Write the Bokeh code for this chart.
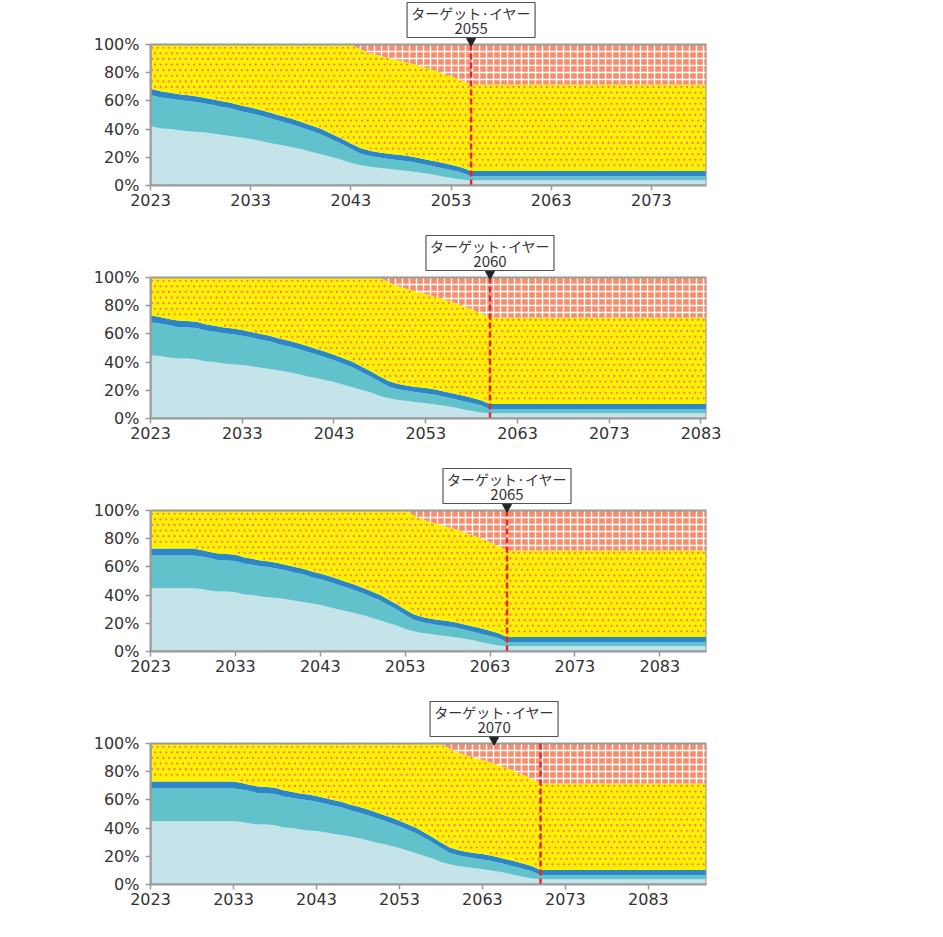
import math
import sys
import traceback
import numpy as np
from bokeh.plotting import figure
from bokeh.models import (Range1d, FixedTicker, PrintfTickFormatter, Label,
                          Legend, LegendItem, ColumnDataSource)
from bokeh.layouts import column
from bokeh.embed import file_html
from bokeh.resources import INLINE

# ---------------- data ----------------
SERIES = ["国内株式", "外国株式", "外国債券", "国内債券", "国内短期金融資産"]
KEYS = ["ds", "fs", "fb", "db", "st"]
TARGETS = [2055, 2060, 2065, 2070]
START_YEAR = 2023
END_YEARS = [2078.5, 2083.6, 2088.5, 2090.0]
CALLOUT_X = [2055, 2060, 2065, 2064.4]
X_TICKS = [2023, 2033, 2043, 2053, 2063, 2073, 2083]
Y_TICKS = [0, 20, 40, 60, 80, 100]

# glide path (% of assets) by years remaining to the target year (t = 0 also applies after it)
YEARS_TO_TARGET = list(range(47, -1, -1))
DOM_STOCK = [44.8] * 11 + [44.3, 43.3, 42.6, 42.5, 42.0, 40.4, 40.0, 39.0, 38.3, 37.9, 37.0,
                           36.0, 35.1, 34.0, 32.9, 31.6, 30.0, 28.7, 27.3, 25.8, 24.0, 22.2,
                           20.3, 18.4, 16.0, 14.3, 13.2, 12.4, 11.6, 10.9, 10.0, 9.0, 7.9,
                           6.6, 5.4, 4.3, 3.7]
FOR_STOCK = [23.2] * 11 + [23.1, 23.0, 22.2, 22.1, 22.2, 22.1, 21.5, 21.5, 21.4, 20.7, 20.4,
                           19.9, 19.6, 18.6, 18.4, 17.8, 17.5, 16.8, 16.2, 15.5, 14.9, 14.1,
                           12.7, 11.4, 10.0, 8.3, 7.6, 7.2, 7.1, 6.9, 6.8, 6.4, 6.1,
                           5.8, 5.6, 5.1, 2.8]
FOR_BOND = [5.0] * 11 + [4.6, 4.3, 4.7, 4.6, 4.4, 4.3, 4.2, 4.1, 4.1, 4.1, 4.0,
                         4.1, 3.9, 4.2, 4.1, 4.1, 4.1, 4.0, 4.0, 4.0, 3.9, 4.0,
                         3.8, 3.7, 3.8, 3.8, 3.6, 3.6, 3.7, 3.8, 3.8, 3.7, 3.8,
                         3.9, 3.8, 3.6, 3.8]
DOM_BOND = [27.0] * 11 + [28.0, 29.4, 30.5, 30.8, 31.4, 33.2, 34.3, 35.4, 36.2, 37.3, 38.6,
                          40.0, 41.4, 43.2, 44.6, 46.5, 48.4, 50.5, 52.5, 54.7, 57.2, 59.7,
                          63.2, 66.5, 70.2, 70.1, 69.4, 68.6, 67.6, 66.7, 66.0, 65.5, 64.7,
                          63.7, 62.6, 61.6, 61.3]
SHORT = [0.0] * 11 + [0.0] * 25 + [3.5, 6.2, 8.2, 10.0, 11.7, 13.4, 15.4, 17.5,
                                   20.0, 22.6, 25.4, 28.4]
GLIDE = {"ds": DOM_STOCK, "fs": FOR_STOCK, "fb": FOR_BOND, "db": DOM_BOND, "st": SHORT}

# ---------------- style ----------------
FILL = {"ds": "#c5e4ea", "fs": "#62c2cc", "fb": "#2b87c8", "db": "#fff000", "st": "#f68e6e"}
DOT_COLOR = "#f0787a"
NUM_FONT = "DejaVu Sans"
JP_FONT = "Noto Sans CJK JP"
TXT = "#333333"
GRAY = "#9a9a9a"

W = 918
LEFT, RIGHT = 150, 212
FRAME_W = W - LEFT - RIGHT
FRAME_H = 185
PLOT_PX = 141           # pixels for 0..100 %
PX = 100.0 / PLOT_PX    # data units per pixel (y)
YMAX = FRAME_H * PX
BOTTOMS = [48, 48, 48, 30]


def make_data(target, end_year):
    years = list(range(START_YEAR, int(math.floor(end_year)) + 1))
    if years[-1] < end_year:
        years.append(float(end_year))
    data = {"year": [float(y) for y in years]}
    for k in KEYS:
        col = []
        for y in years:
            t = max(0, min(47, int(math.ceil(target - y))))
            col.append(float(GLIDE[k][YEARS_TO_TARGET.index(t)]))
        data[k] = col
    return data


def add_patterns(fig, data, end, ppy):
    """dot texture on 国内債券, white grid on 国内短期金融資産"""
    yrs = np.array(data["year"], dtype=float)
    fb_top = np.array(data["ds"]) + np.array(data["fs"]) + np.array(data["fb"])
    bond_top = fb_top + np.array(data["db"])
    dx, dy = 5.6 / ppy, 5.6 * PX
    dxs, dys = [], []
    j = 0
    y = dy * 0.6
    while y < 100:
        off = (j % 2) * dx / 2
        xs = np.arange(START_YEAR + dx * 0.3 + off, end, dx)
        lo = np.interp(xs, yrs, fb_top)
        hi = np.interp(xs, yrs, bond_top)
        m = (y > lo + 1.2) & (y < hi - 0.8)
        dxs.extend([float(v) for v in xs[m]])
        dys.extend([float(y)] * int(m.sum()))
        j += 1
        y += dy
    fig.scatter(x=dxs, y=dys, marker="circle", size=2.2, fill_color=DOT_COLOR,
                line_color=None)
    step_x, step_y = 7.0 / ppy, 7.0 * PX
    vx = np.arange(START_YEAR + step_x, end, step_x)
    vlo = np.interp(vx, yrs, bond_top)
    m = vlo < 100
    vx_l = [float(v) for v in vx[m]]
    vlo_l = [float(v) for v in vlo[m]]
    if vx_l:
        fig.segment(x0=vx_l, y0=vlo_l, x1=vx_l, y1=[100.0] * len(vx_l),
                    line_color="white", line_width=1.4)
    fine_x = np.linspace(START_YEAR, end, 3000)
    fine_top = np.interp(fine_x, yrs, bond_top)
    hy, hx0 = [], []
    yy = 100 - step_y
    while yy > fine_top.min():
        hx0.append(float(fine_x[int(np.argmax(fine_top <= yy))]))
        hy.append(float(yy))
        yy -= step_y
    if hy:
        fig.segment(x0=hx0, y0=hy, x1=[float(end)] * len(hy), y1=hy,
                    line_color="white", line_width=1.4)


def safe(fn, *args):
    try:
        return fn(*args)
    except Exception:
        traceback.print_exc(file=sys.stdout)
        return None


def add_callout(fig, idx, target, ppy):
    cx = CALLOUT_X[idx]
    fig.quad(left=[cx - 64 / ppy], right=[cx + 64 / ppy], bottom=[100 + 7 * PX],
             top=[100 + 42 * PX], fill_color="white", line_color="#555555", line_width=1.2)
    fig.add_layout(Label(x=cx, y=100 + 32 * PX, text="ターゲット·イヤー",
                         text_align="center", text_baseline="middle",
                         text_font=JP_FONT, text_font_size="14px", text_color=TXT))
    fig.add_layout(Label(x=cx, y=100 + 16.5 * PX, text=str(target),
                         text_align="center", text_baseline="middle",
                         text_font=JP_FONT, text_font_size="15px", text_color=TXT))
    fig.scatter(x=[cx], y=[100 + 3.5 * PX], marker="inverted_triangle", size=9,
                fill_color="#222222", line_color="#222222")


def add_tag(fig, target, ppy):
    fig.add_layout(Label(x=START_YEAR - (LEFT - 2) / ppy, y=100 - 10 * PX,
                         text="<%d>" % target, text_align="left", text_baseline="middle",
                         text_font=NUM_FONT, text_font_size="17px", text_color=TXT))


def style_axes(fig, end):
    xa = fig.xaxis[0]
    xa.ticker = FixedTicker(ticks=[t for t in X_TICKS if t <= end])
    xa.bounds = (START_YEAR, end)
    ya = fig.yaxis[0]
    ya.ticker = FixedTicker(ticks=Y_TICKS)
    ya.bounds = (0, 100)
    ya.formatter = PrintfTickFormatter(format="%d%%")
    for ax in (xa, ya):
        ax.axis_line_color = GRAY
        ax.axis_line_width = 2
        ax.major_tick_line_color = GRAY
        ax.major_tick_line_width = 1.5
        ax.major_tick_out = 5
        ax.major_tick_in = 0
        ax.minor_tick_line_color = None
        ax.major_label_text_font = NUM_FONT
        ax.major_label_text_font_size = "16px"
        ax.major_label_text_color = TXT
    xa.major_label_standoff = 3
    ya.major_label_standoff = 6


def add_legend(fig, areas):
    items = [LegendItem(label=name, renderers=[r])
             for name, r in reversed(list(zip(SERIES, areas)))]
    leg = Legend(items=items, location=(FRAME_W + 58, 4), orientation="vertical",
                 glyph_width=18, glyph_height=18, label_height=18, spacing=10,
                 label_standoff=10, padding=0, margin=0,
                 border_line_color=None, background_fill_alpha=0,
                 label_text_font=JP_FONT, label_text_font_size="15px",
                 label_text_color=TXT)
    fig.add_layout(leg, "center")


def make_chart(idx):
    target = TARGETS[idx]
    end = END_YEARS[idx]
    bottom = BOTTOMS[idx]
    ppy = FRAME_W / (end - START_YEAR)
    fig = figure(width=W, height=FRAME_H + bottom, output_backend="svg", toolbar_location=None,
                 x_range=Range1d(start=START_YEAR, end=end), y_range=Range1d(start=0, end=YMAX),
                 min_border_left=LEFT, min_border_right=RIGHT, min_border_top=0,
                 min_border_bottom=bottom)
    fig.outline_line_color = None
    fig.xgrid.visible = False
    fig.ygrid.visible = False

    data = make_data(target, end)
    src = ColumnDataSource(data)
    areas = fig.varea_stack(KEYS, x="year", source=src, fill_color=[FILL[k] for k in KEYS])
    safe(add_patterns, fig, data, end, ppy)
    safe(lambda: fig.line_stack(x="year", y=KEYS[:4], source=src,
                                line_color="#8c8c8c", line_width=1))
    safe(lambda: fig.quad(left=[START_YEAR], right=[end], bottom=[0], top=[100],
                          fill_color=None, line_color=GRAY, line_width=2))
    safe(lambda: fig.segment(x0=[target], y0=[0], x1=[target], y1=[100],
                             line_color="#e8262a", line_width=2.5, line_dash="6 3"))
    safe(add_callout, fig, idx, target, ppy)
    safe(add_tag, fig, target, ppy)
    safe(style_axes, fig, end)
    safe(add_legend, fig, areas)
    return fig


figs = [make_chart(i) for i in range(4)]
p = column(*figs)
open("out.html", "w").write(file_html(p, INLINE))
